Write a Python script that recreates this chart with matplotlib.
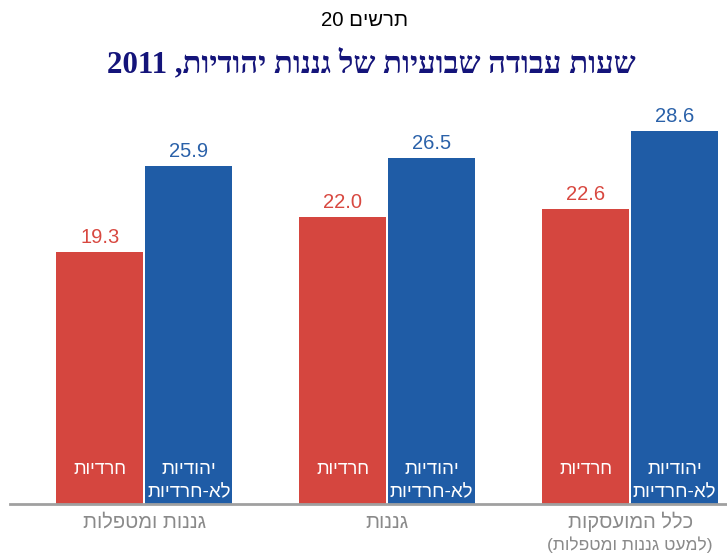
import re
import matplotlib
matplotlib.use("Agg")
import matplotlib.pyplot as plt
import numpy as np

# ---- data (logical Hebrew text) ----
categories = ["גננות ומטפלות", "גננות", "כלל המועסקות\n(למעט גננות ומטפלות)"]
series_names = ["חרדיות", "יהודיות\nלא-חרדיות"]
haredi = [19.3, 22.0, 22.6]
non_haredi = [25.9, 26.5, 28.6]
title_text = "תרשים 20"
subtitle_text = "שעות עבודה שבועיות של גננות יהודיות, 2011"


def vis(s):
    """Convert logical RTL Hebrew string to visual order for LTR rendering."""
    lines = []
    for line in s.split("\n"):
        r = line[::-1]
        r = re.sub(r"[0-9][0-9.,]*[0-9]|[0-9]", lambda m: m.group(0)[::-1], r)
        r = r.translate(str.maketrans("()", ")("))
        lines.append(r)
    return "\n".join(lines)


SANS = ["Liberation Sans", "DejaVu Sans"]
SERIF = ["Liberation Serif", "DejaVu Serif"]

RED = "#D5463F"
BLUE = "#1F5CA6"
RED_TXT = "#D84840"
BLUE_TXT = "#2A61A9"
PX = 0.72  # points per pixel at dpi 100

W, H = 727, 554
fig = plt.figure(figsize=(W / 100, H / 100), dpi=100)

ax_left = 10 / W
ax_right = 727 / W
ax_bottom = (H - 504) / H
ax_top = (H - 112.8) / H
ax = fig.add_axes([ax_left, ax_bottom, ax_right - ax_left, ax_top - ax_bottom])

x = np.arange(len(categories))
bw = 0.358
off = 0.183
ax.bar(x - off, haredi, width=bw, color=RED, zorder=2)
ax.bar(x + off, non_haredi, width=bw, color=BLUE, zorder=2)

ax.set_xlim(-0.553, 2.399)
ax.set_ylim(0, 30)

for s in ["top", "right", "left"]:
    ax.spines[s].set_visible(False)
ax.spines["bottom"].set_color("#A0A0A0")
ax.spines["bottom"].set_linewidth(2)
ax.set_yticks([])
ax.set_xticks([])

for xi, v in zip(x, haredi):
    ax.annotate(f"{v:.1f}", (xi - off, v), xytext=(0, 5 * PX), textcoords="offset points",
                ha="center", va="bottom", color=RED_TXT, fontsize=14.5, family=SANS)
    ax.annotate(vis(series_names[0]), (xi - off, 0), xytext=(0, 34 * PX),
                textcoords="offset points", ha="center", va="center",
                color="white", fontsize=13, family=SANS)
for xi, v in zip(x, non_haredi):
    ax.annotate(f"{v:.1f}", (xi + off, v), xytext=(0, 5 * PX), textcoords="offset points",
                ha="center", va="bottom", color=BLUE_TXT, fontsize=14.5, family=SANS)
    top_line, bottom_line = vis(series_names[1]).split("\n")
    ax.annotate(top_line, (xi + off, 0), xytext=(0, 34 * PX),
                textcoords="offset points", ha="center", va="center",
                color="white", fontsize=13.5, family=SANS)
    ax.annotate(bottom_line, (xi + off, 0), xytext=(0, 11 * PX),
                textcoords="offset points", ha="center", va="center",
                color="white", fontsize=13.5, family=SANS)

for xi, c in zip(x, categories):
    parts = vis(c).split("\n")
    ax.annotate(parts[0], (xi, 0), xytext=(0, -18 * PX), textcoords="offset points",
                ha="center", va="center", color="#8A8A8A", fontsize=14.5, family=SANS,
                annotation_clip=False)
    if len(parts) > 1:
        ax.annotate(parts[1], (xi, 0), xytext=(0, -41 * PX), textcoords="offset points",
                    ha="center", va="center", color="#8A8A8A", fontsize=12.5, family=SANS,
                    annotation_clip=False)

fig.text(365 / W, 1 - 20 / H, vis(title_text), ha="center", va="center",
         fontsize=14.7, color="black", family=SANS)
fig.text(371 / W, 1 - 64 / H, vis(subtitle_text), ha="center", va="center",
         fontsize=22.3, color="#14147A", family=SERIF, fontweight="bold")

fig.savefig("out.png", dpi=100)
